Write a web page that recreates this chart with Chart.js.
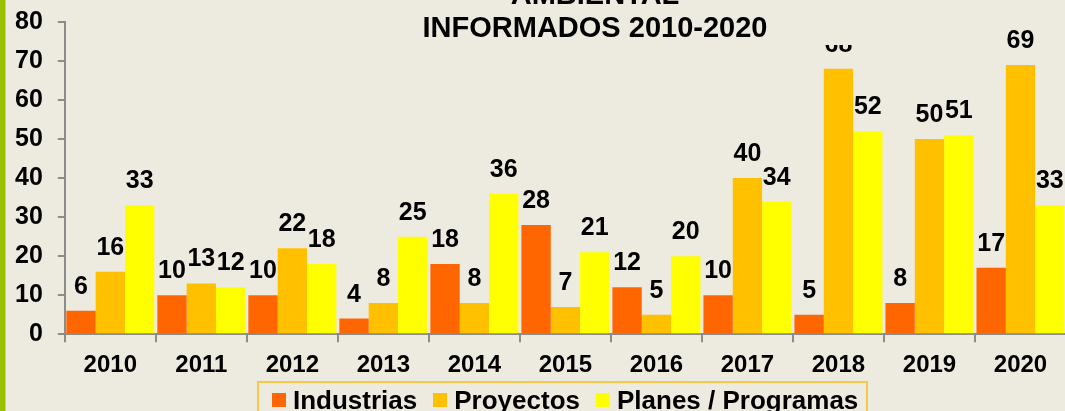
<!DOCTYPE html>
<html>
<head>
<meta charset="utf-8">
<script src="https://cdn.jsdelivr.net/npm/chart.js@4.4.1/dist/chart.umd.min.js"></script>
<style>
  html,body{margin:0;padding:0;background:#EDEADF;overflow:hidden;width:1065px;height:411px;font-family:"Liberation Sans",Arial,sans-serif;}
  #wrap{position:absolute;left:0;top:0;width:1070px;height:411px;}
  #strip{position:absolute;left:0;top:0;width:5px;height:411px;background:#99C000;border-right:1px solid #F2C94C;z-index:2;}
  #legend{position:absolute;left:257px;top:381px;width:611px;height:40px;border:2px solid #F7C948;display:flex;align-items:flex-start;padding-left:13px;box-sizing:border-box;white-space:nowrap;overflow:visible;}
  #legend .it{display:flex;flex-shrink:0;align-items:center;margin-right:16px;font-weight:bold;font-size:26px;color:#000;line-height:30px;margin-top:2px;}
  #legend .sw{width:14px;height:14px;margin-right:7px;flex-shrink:0;}
</style>
</head>
<body>
<div id="strip"></div>
<div id="wrap"><canvas id="c" width="1070" height="411"></canvas></div>
<div id="legend"></div>
<script>
// datos
const years = ['2010','2011','2012','2013','2014','2015','2016','2017','2018','2019','2020'];
const industrias = [6,10,10,4,18,28,12,10,5,8,17];
const proyectos = [16,13,22,8,8,7,5,40,68,50,69];
const planes = [33,12,18,25,36,21,20,34,52,51,33];
const seriesNames = ['Industrias','Proyectos','Planes / Programas'];
const seriesColors = ['#FF6600','#FFC000','#FFFF00'];
const titleLines = ['AMBIENTAL','INFORMADOS 2010-2020'];

const FONT = '"Liberation Sans", Arial, sans-serif';
const BG = '#EDEADF';

// etiquetas de valor sobre cada barra
const labelsPlugin = {
  id:'valLabels',
  afterDatasetsDraw(chart){
    const ctx=chart.ctx; ctx.save();
    ctx.font='bold 25px '+FONT; ctx.fillStyle='#000'; ctx.textAlign='center'; ctx.textBaseline='alphabetic';
    chart.data.datasets.forEach((ds,i)=>{
      chart.getDatasetMeta(i).data.forEach((el,j)=>{ ctx.fillText(String(ds.data[j]), el.x, el.y-17); });
    });
    ctx.restore();
  }
};
// titulo (con fondo que tapa lo de abajo)
const titlePlugin = {
  id:'titleBox',
  afterDraw(chart){
    const ctx=chart.ctx; ctx.save();
    ctx.fillStyle=BG; ctx.fillRect(330,0,540,45);
    ctx.font='bold 29px '+FONT; ctx.fillStyle='#000'; ctx.textAlign='center'; ctx.textBaseline='alphabetic';
    ctx.fillText(titleLines[0],595,4);
    ctx.fillText(titleLines[1],595,37);
    ctx.restore();
  }
};

const ds=[industrias,proyectos,planes].map((d,i)=>({label:seriesNames[i],data:d,backgroundColor:seriesColors[i],borderWidth:0,categoryPercentage:0.967,barPercentage:1}));

const chart=new Chart(document.getElementById('c'),{
  type:'bar',
  data:{labels:years,datasets:ds},
  options:{
    responsive:false,animation:false,
    layout:{padding:{left:0,right:4,top:22,bottom:22}},
    plugins:{legend:{display:false},tooltip:{enabled:false},title:{display:false}},
    scales:{
      x:{
        grid:{display:true,drawOnChartArea:false,drawTicks:true,tickLength:8,color:'#8C8C8C',lineWidth:2,offset:true},
        border:{display:true,color:'#8C8C8C',width:2},
        ticks:{color:'#000',font:{family:FONT,size:24,weight:'bold'},padding:9,maxRotation:0}
      },
      y:{
        min:0,max:80,
        afterFit(s){ s.paddingTop=0; },
        grid:{display:true,drawOnChartArea:false,drawTicks:true,tickLength:7,color:'#8C8C8C',lineWidth:2},
        border:{display:true,color:'#8C8C8C',width:2},
        ticks:{stepSize:10,color:'#000',font:{family:FONT,size:25,weight:'bold'},padding:15}
      }
    }
  },
  plugins:[labelsPlugin,titlePlugin]
});

document.getElementById('legend').innerHTML=seriesNames.map((n,i)=>`<div class="it"><div class="sw" style="background:${seriesColors[i]}"></div>${n}</div>`).join('');
</script>
</body>
</html>
